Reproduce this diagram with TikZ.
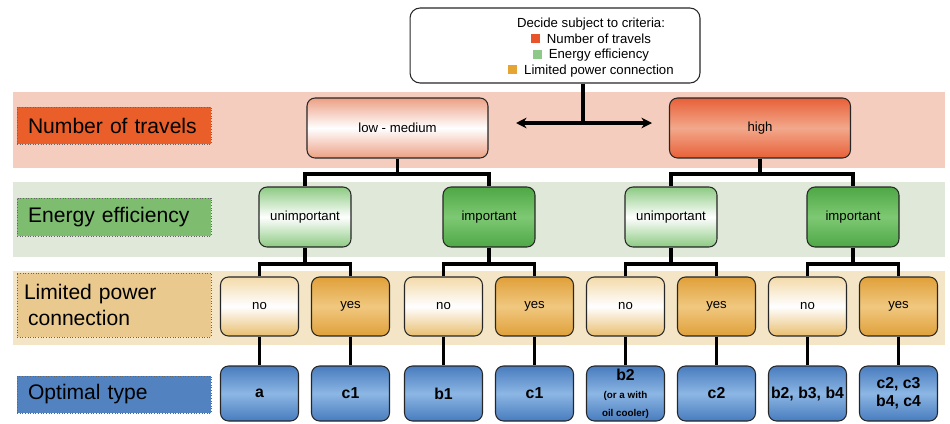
\documentclass[tikz,border=0pt]{standalone}
\usepackage{fontspec}
\setmainfont{Liberation Sans}
\usepackage{xcolor}
\usepackage{tikz}
\usetikzlibrary{positioning,calc,arrows.meta}

\definecolor{travelbg}{RGB}{244,205,190}
\definecolor{effbg}{RGB}{223,232,217}
\definecolor{powerbg}{RGB}{243,229,197}
\definecolor{travellbl}{RGB}{234,94,42}
\definecolor{efflbl}{RGB}{126,189,112}
\definecolor{powerlbl}{RGB}{233,201,142}
\definecolor{optlbl}{RGB}{82,131,192}
\definecolor{lowtop}{RGB}{236,160,132}
\definecolor{hightop}{RGB}{232,96,56}
\definecolor{highmid}{RGB}{242,168,140}
\definecolor{untop}{RGB}{140,202,130}
\definecolor{imtop}{RGB}{78,168,70}
\definecolor{immid}{RGB}{126,200,115}
\definecolor{notop}{RGB}{243,218,170}
\definecolor{nobot}{RGB}{233,190,112}
\definecolor{yestop}{RGB}{224,160,58}
\definecolor{yesmid}{RGB}{240,200,128}
\definecolor{opttop}{RGB}{72,124,190}
\definecolor{optmid}{RGB}{140,182,228}
\definecolor{travelsq}{RGB}{232,85,43}
\definecolor{effsq}{RGB}{143,201,138}
\definecolor{powersq}{RGB}{230,165,50}

\newcommand{\smalltype}{\fontsize{5.6}{6.6}\selectfont}

\begin{document}
\begin{tikzpicture}[x=0.02cm, y=-0.02cm,
    box/.style={draw=black!85, line width=0.6pt, rounded corners=0.16cm, inner sep=1pt, align=center, font=\fontsize{7.5}{9}\selectfont},
    lowbox/.style={box, minimum width=3.62cm, minimum height=1.2cm, top color=lowtop, bottom color=lowtop, middle color=white},
    highbox/.style={box, minimum width=3.62cm, minimum height=1.2cm, top color=hightop, bottom color=hightop, middle color=highmid},
    unbox/.style={box, minimum width=1.84cm, minimum height=1.2cm, top color=untop, bottom color=untop, middle color=white},
    imbox/.style={box, minimum width=1.84cm, minimum height=1.2cm, top color=imtop, bottom color=imtop, middle color=immid},
    nobox/.style={box, minimum width=1.56cm, minimum height=1.18cm, top color=notop, bottom color=nobot, middle color=white},
    yesbox/.style={box, minimum width=1.56cm, minimum height=1.18cm, top color=yestop, bottom color=yestop, middle color=yesmid},
    optbox/.style={box, minimum width=1.56cm, minimum height=1.1cm, top color=opttop, bottom color=opttop, middle color=optmid, font=\fontsize{9}{10.2}\selectfont\bfseries},
    bandlabel/.style={draw=black!60, densely dotted, line width=0.5pt, minimum width=3.88cm, text width=3.44cm, inner xsep=0.22cm, align=left, font=\fontsize{12}{14.5}\selectfont},
    conn/.style={line width=2pt, black}
]
    \useasboundingbox (0,0) rectangle (950,423);

    % Bands
    \fill[travelbg] (13,92) rectangle (945,168);
    \fill[effbg] (13,182) rectangle (945,257);
    \fill[powerbg] (13,271) rectangle (945,345);

    % Band labels
    \node[bandlabel, fill=travellbl, minimum height=0.74cm] (lblTravel) at (114,125.5) {Number of travels};
    \node[bandlabel, fill=efflbl, minimum height=0.76cm] (lblEff) at (114,217) {Energy efficiency};
    \node[bandlabel, fill=powerlbl, minimum height=1.28cm, inner xsep=0.14cm, text width=3.6cm] (lblPower) at (114,305) {Limited power\\\hspace*{0.08cm}connection};
    \node[bandlabel, fill=optlbl, minimum height=0.74cm] (lblOpt) at (114,394.5) {Optimal type};

    % Criteria
    \node[draw=black!85, line width=0.6pt, rounded corners=0.2cm, minimum width=5.8cm, minimum height=1.5cm] (crit) at (555,45.5) {};
    \node[align=center, inner sep=0pt, font=\fontsize{7.5}{8.8}\selectfont] (critText) at (591,47.5)
        {Decide subject to criteria:\\
         \textcolor{travelsq}{\rule{5pt}{5pt}}\hspace{4pt}Number of travels\\
         \textcolor{effsq}{\rule{5pt}{5pt}}\hspace{4pt}Energy efficiency\\
         \textcolor{powersq}{\rule{5pt}{5pt}}\hspace{4pt}Limited power connection};
    \coordinate (fork) at (583,123);
    \coordinate (arrL) at (516,123);
    \coordinate (arrR) at (652,123);
    \draw[conn] (crit.south -| fork) -- (fork);
    \draw[conn, {Stealth[length=6pt,width=6pt]}-{Stealth[length=6pt,width=6pt]}] (arrL) -- (arrR);

    % Number of travels
    \node[lowbox] (low) at (397.5,128) {low - medium};
    \node[highbox] (high) at (760,128) {high};

    % Energy efficiency
    \node[unbox] (un1) at (305,217) {unimportant};
    \node[imbox] (im1) at (489,217) {important};
    \node[unbox] (un2) at (671,217) {unimportant};
    \node[imbox] (im2) at (853,217) {important};

    % Limited power connection
    \node[nobox] (no1) at (259.5,306.5) {no};
    \node[yesbox] (yes1) at (350.5,306.5) {yes};
    \node[nobox] (no2) at (443.5,306.5) {no};
    \node[yesbox] (yes2) at (534.5,306.5) {yes};
    \node[nobox] (no3) at (625.5,306.5) {no};
    \node[yesbox] (yes3) at (716.5,306.5) {yes};
    \node[nobox] (no4) at (807.5,306.5) {no};
    \node[yesbox] (yes4) at (898.5,306.5) {yes};

    % Optimal type
    \node[optbox] (opt1) at (259.5,393.5) {a};
    \node[optbox] (opt2) at (350.5,393.5) {c1};
    \node[optbox] (opt3) at (443.5,393.5) {b1};
    \node[optbox] (opt4) at (534.5,393.5) {c1};
    \node[optbox] (opt5) at (625.5,393.5) {b2\\\smalltype(or a with\\\smalltype oil cooler)};
    \node[optbox] (opt6) at (716.5,393.5) {c2};
    \node[optbox] (opt7) at (807.5,393.5) {b2, b3, b4};
    \node[optbox] (opt8) at (898.5,393.5) {c2, c3\\b4, c4};

    % Connections
    \coordinate (j1) at (0,174);
    \coordinate (j2) at (0,264);
    \draw[conn] (low.south) -- (low.south |- j1);
    \draw[conn] (un1.north) |- (low.south |- j1) -| (im1.north);
    \draw[conn] (high.south) -- (high.south |- j1);
    \draw[conn] (un2.north) |- (high.south |- j1) -| (im2.north);
    \draw[conn] (un1.south) -- (un1.south |- j2);
    \draw[conn] (no1.north) |- (un1.south |- j2) -| (yes1.north);
    \draw[conn] (im1.south) -- (im1.south |- j2);
    \draw[conn] (no2.north) |- (im1.south |- j2) -| (yes2.north);
    \draw[conn] (un2.south) -- (un2.south |- j2);
    \draw[conn] (no3.north) |- (un2.south |- j2) -| (yes3.north);
    \draw[conn] (im2.south) -- (im2.south |- j2);
    \draw[conn] (no4.north) |- (im2.south |- j2) -| (yes4.north);
    \draw[conn] (no1) -- (opt1);
    \draw[conn] (yes1) -- (opt2);
    \draw[conn] (no2) -- (opt3);
    \draw[conn] (yes2) -- (opt4);
    \draw[conn] (no3) -- (opt5);
    \draw[conn] (yes3) -- (opt6);
    \draw[conn] (no4) -- (opt7);
    \draw[conn] (yes4) -- (opt8);
\end{tikzpicture}
\end{document}
